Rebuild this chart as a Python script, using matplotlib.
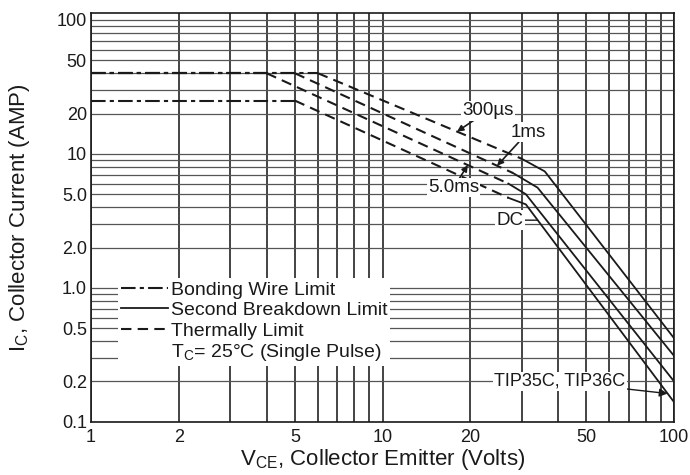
import numpy as np
import matplotlib
matplotlib.use('Agg')
import matplotlib.pyplot as plt
from matplotlib.lines import Line2D
from matplotlib.ticker import FixedLocator, LogLocator, NullFormatter

plt.rcParams['font.family'] = ['Liberation Sans', 'DejaVu Sans']

# safe operating area, corner points
curve_names = ['300\u00b5s', '1ms', '5.0ms', 'DC']
flat_amps = [40, 40, 40, 25]              # bonding wire limit plateau
flat_end_volts = [6, 5, 4, 5]
thermal_end_volts = [30, 28, 27, 27]      # end of the dashed thermal part
thermal_end_amps = [9.2, 7.2, 6.0, 4.7]
knee_volts = [36, 34, 31, 31]
knee_amps = [7.4, 5.6, 5.0, 4.2]
end_volts = [100, 100, 100, 100]
end_amps = [0.42, 0.31, 0.20, 0.14]

x_ticks = [1, 2, 5, 10, 20, 50, 100]
y_ticks = [0.1, 0.2, 0.5, 1, 2, 5, 10, 20, 50, 100]
y_tick_labels = ['0.1', '0.2', '0.5', '1.0', '2.0', '5.0', '10', '20', '50', '100']

ink = '#1a1a1a'
bond_dash = (0, (7, 2, 2, 2))
therm_dash = (0, (5, 3))


def curve_points(i):
    vs = [1, flat_end_volts[i], thermal_end_volts[i], knee_volts[i], end_volts[i]]
    amps = [flat_amps[i], flat_amps[i], thermal_end_amps[i], knee_amps[i], end_amps[i]]
    return vs, amps


def amps_at(i, v):
    vs, amps = curve_points(i)
    return 10 ** np.interp(np.log10(v), np.log10(vs), np.log10(amps))


fig = plt.figure(figsize=(6.9, 4.75), dpi=100)
ax = fig.add_axes([0.132, 0.112, 0.845, 0.861])
ax.set_xscale('log')
ax.set_yscale('log')
ax.set_xlim(1, 100)
ax.set_ylim(0.1, 113)

for i in range(len(curve_names)):
    vs, amps = curve_points(i)
    ax.plot(vs[:2], amps[:2], color=ink, lw=1.5, linestyle=bond_dash)
    ax.plot(vs[1:3], amps[1:3], color=ink, lw=1.5, linestyle=therm_dash)
    ax.plot(vs[2:], amps[2:], color=ink, lw=1.3)

# grid
ax.xaxis.set_major_locator(FixedLocator(x_ticks))
ax.set_xticklabels([str(t) for t in x_ticks])
ax.yaxis.set_major_locator(FixedLocator(y_ticks))
ax.set_yticklabels(y_tick_labels)
ax.xaxis.set_minor_locator(LogLocator(base=10, subs=np.arange(1, 10)))
ax.yaxis.set_minor_locator(LogLocator(base=10, subs=np.arange(1, 10)))
ax.xaxis.set_minor_formatter(NullFormatter())
ax.yaxis.set_minor_formatter(NullFormatter())
ax.grid(which='both', axis='x', color='#111111', lw=1.1)
ax.grid(which='both', axis='y', color='#555555', lw=0.9)
ax.tick_params(which='both', length=0, labelsize=13, colors=ink)
ax.tick_params(axis='x', pad=5)
ax.tick_params(axis='y', pad=3)
for s in ax.spines.values():
    s.set_color(ink)
    s.set_linewidth(1.2)

ax.set_xlabel('V$_{\\mathregular{CE}}$, Collector Emitter (Volts)', fontsize=16, color=ink)
ax.set_ylabel('I$_{\\mathregular{C}}$, Collector Current (AMP)', fontsize=16, color=ink)
ax.xaxis.set_label_coords(0.5, -0.062)
ax.yaxis.set_label_coords(-0.102, 0.5)

# curve labels
fs = 13.5
box = dict(facecolor='white', edgecolor='none', pad=1)
arrow = dict(arrowstyle='-|>', color=ink, lw=1.2, mutation_scale=9, shrinkA=0, shrinkB=0)
ax.annotate(curve_names[0], xy=(18, amps_at(0, 18)), xytext=(23, 21), fontsize=fs,
            ha='center', va='center', color=ink, bbox=box, arrowprops=arrow)
ax.annotate(curve_names[1], xy=(24.7, amps_at(1, 24.7)), xytext=(31.5, 14.5), fontsize=fs,
            ha='center', va='center', color=ink, bbox=box, arrowprops=arrow)
ax.annotate(curve_names[2], xy=(19.6, amps_at(2, 19.6)), xytext=(17.5, 5.6), fontsize=fs,
            ha='center', va='center', color=ink, bbox=box, arrowprops=arrow)
dc_amp = 3.2
dc_volt = 10 ** np.interp(np.log10(dc_amp), np.log10([end_amps[3], knee_amps[3]]),
                          np.log10([end_volts[3], knee_volts[3]]))
ax.annotate(curve_names[3], xy=(dc_volt, dc_amp), xytext=(27.4, dc_amp), fontsize=fs,
            ha='center', va='center', color=ink, bbox=box,
            arrowprops=dict(arrowstyle='-', color=ink, lw=1.0, shrinkA=0, shrinkB=0))
ax.annotate('TIP35C, TIP36C', xy=(95, amps_at(3, 95)), xytext=(40.5, 0.2), fontsize=13,
            ha='center', va='center', color=ink, bbox=box,
            arrowprops=dict(arrowstyle='-|>', color=ink, lw=1.0, mutation_scale=12,
                            shrinkA=0, shrinkB=0))

# line style key
handles = [Line2D([], [], color=ink, lw=1.5, linestyle=bond_dash),
           Line2D([], [], color=ink, lw=1.3),
           Line2D([], [], color=ink, lw=1.5, linestyle=therm_dash),
           Line2D([], [], linestyle='none')]
labels = ['Bonding Wire Limit', 'Second Breakdown Limit', 'Thermally Limit',
          'T$_{\\mathregular{C}}$= 25\u00b0C (Single Pulse)']
leg = ax.legend(handles, labels, loc='lower left', bbox_to_anchor=(0.03, 0.112),
                fontsize=14, handlelength=2.4, handletextpad=0.15, labelspacing=0.14,
                borderpad=0.15, frameon=True, fancybox=False)
leg.get_frame().set_facecolor('white')
leg.get_frame().set_edgecolor('none')
leg.get_frame().set_alpha(1)
for t in leg.get_texts():
    t.set_color(ink)

fig.savefig('out.png', dpi=100)
